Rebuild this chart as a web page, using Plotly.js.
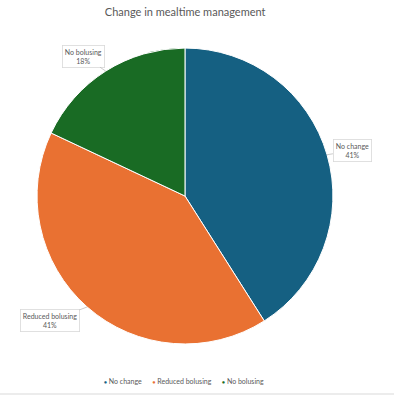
<!DOCTYPE html>
<html>
<head>
<meta charset="utf-8">
<script src="https://cdn.plot.ly/plotly-3.0.1.min.js"></script>
<style>html,body{margin:0;padding:0;background:#fff;}#chart{width:394px;height:400px;}</style>
</head>
<body>
<div id="chart"></div>
<script>
const categories = ["No change", "Reduced bolusing", "No bolusing"];
const percentValues = [41, 41, 18];
const sliceColors = ["#156082", "#E97132", "#196B24"];
const titleText = "Change in mealtime management";

const W = 394, H = 400;
const domX = [0.094, 0.845];
const domY = [0.14, 0.88];
const cx = (domX[0] + domX[1]) / 2 * W;
const cy = (1 - (domY[0] + domY[1]) / 2) * H;
const R = Math.min((domX[1] - domX[0]) * W, (domY[1] - domY[0]) * H) / 2;

// label box offsets (pixels) from the slice edge at mid-angle
const labelOffsets = [[25, -4], [-37, 14], [-22, -15]];

const total = percentValues.reduce((a, b) => a + b, 0);
let cum = 0;
const annotations = [];
percentValues.forEach((v, i) => {
  const mid = (cum + v / 2) / total * 2 * Math.PI;
  cum += v;
  const px = cx + R * Math.sin(mid);
  const py = cy - R * Math.cos(mid);
  annotations.push({
    x: px / W, y: 1 - py / H, xref: 'paper', yref: 'paper',
    ax: labelOffsets[i][0], ay: labelOffsets[i][1],
    text: categories[i] + '<br>' + Math.round(v / total * 100) + '%',
    showarrow: true, arrowhead: 0, arrowwidth: 0.8, arrowcolor: '#bfbfbf',
    bordercolor: '#d9d9d9', borderwidth: 0.8, borderpad: 2, bgcolor: '#ffffff',
    font: {family: 'Lato, sans-serif', size: 7, color: '#595959'}
  });
});

// legend built from categories and colours (small dot markers like the original)
const legendText = categories.map((c, i) =>
  '<span style="color:' + sliceColors[i] + ';font-size:5px">●</span> ' + c
).join('&nbsp;&nbsp;&nbsp;&nbsp;&nbsp;&nbsp;');
annotations.push({
  x: 0.468, y: 0.047, xref: 'paper', yref: 'paper', xanchor: 'center', yanchor: 'middle',
  showarrow: false, text: legendText,
  font: {family: 'Lato, sans-serif', size: 7, color: '#595959'}
});

const data = [{
  type: 'pie',
  labels: categories,
  values: percentValues,
  marker: {colors: sliceColors, line: {color: '#ffffff', width: 1}},
  sort: false,
  direction: 'clockwise',
  rotation: 0,
  textinfo: 'none',
  hoverinfo: 'label+percent',
  domain: {x: domX, y: domY}
}];

const layout = {
  width: W, height: H,
  margin: {l: 0, r: 0, t: 0, b: 0},
  paper_bgcolor: '#ffffff',
  font: {family: 'Lato, sans-serif', color: '#595959'},
  title: {text: titleText, x: 0.47, xanchor: 'center', y: 0.97, yanchor: 'middle',
          font: {family: 'Lato, sans-serif', size: 11, color: '#595959'}},
  showlegend: false,
  annotations: annotations,
  shapes: [{type: 'line', xref: 'paper', yref: 'paper', x0: 0, x1: 1, y0: 0.015, y1: 0.015,
            line: {color: '#d9d9d9', width: 1}}]
};

Plotly.newPlot('chart', data, layout, {displayModeBar: false, staticPlot: true});
</script>
</body>
</html>
